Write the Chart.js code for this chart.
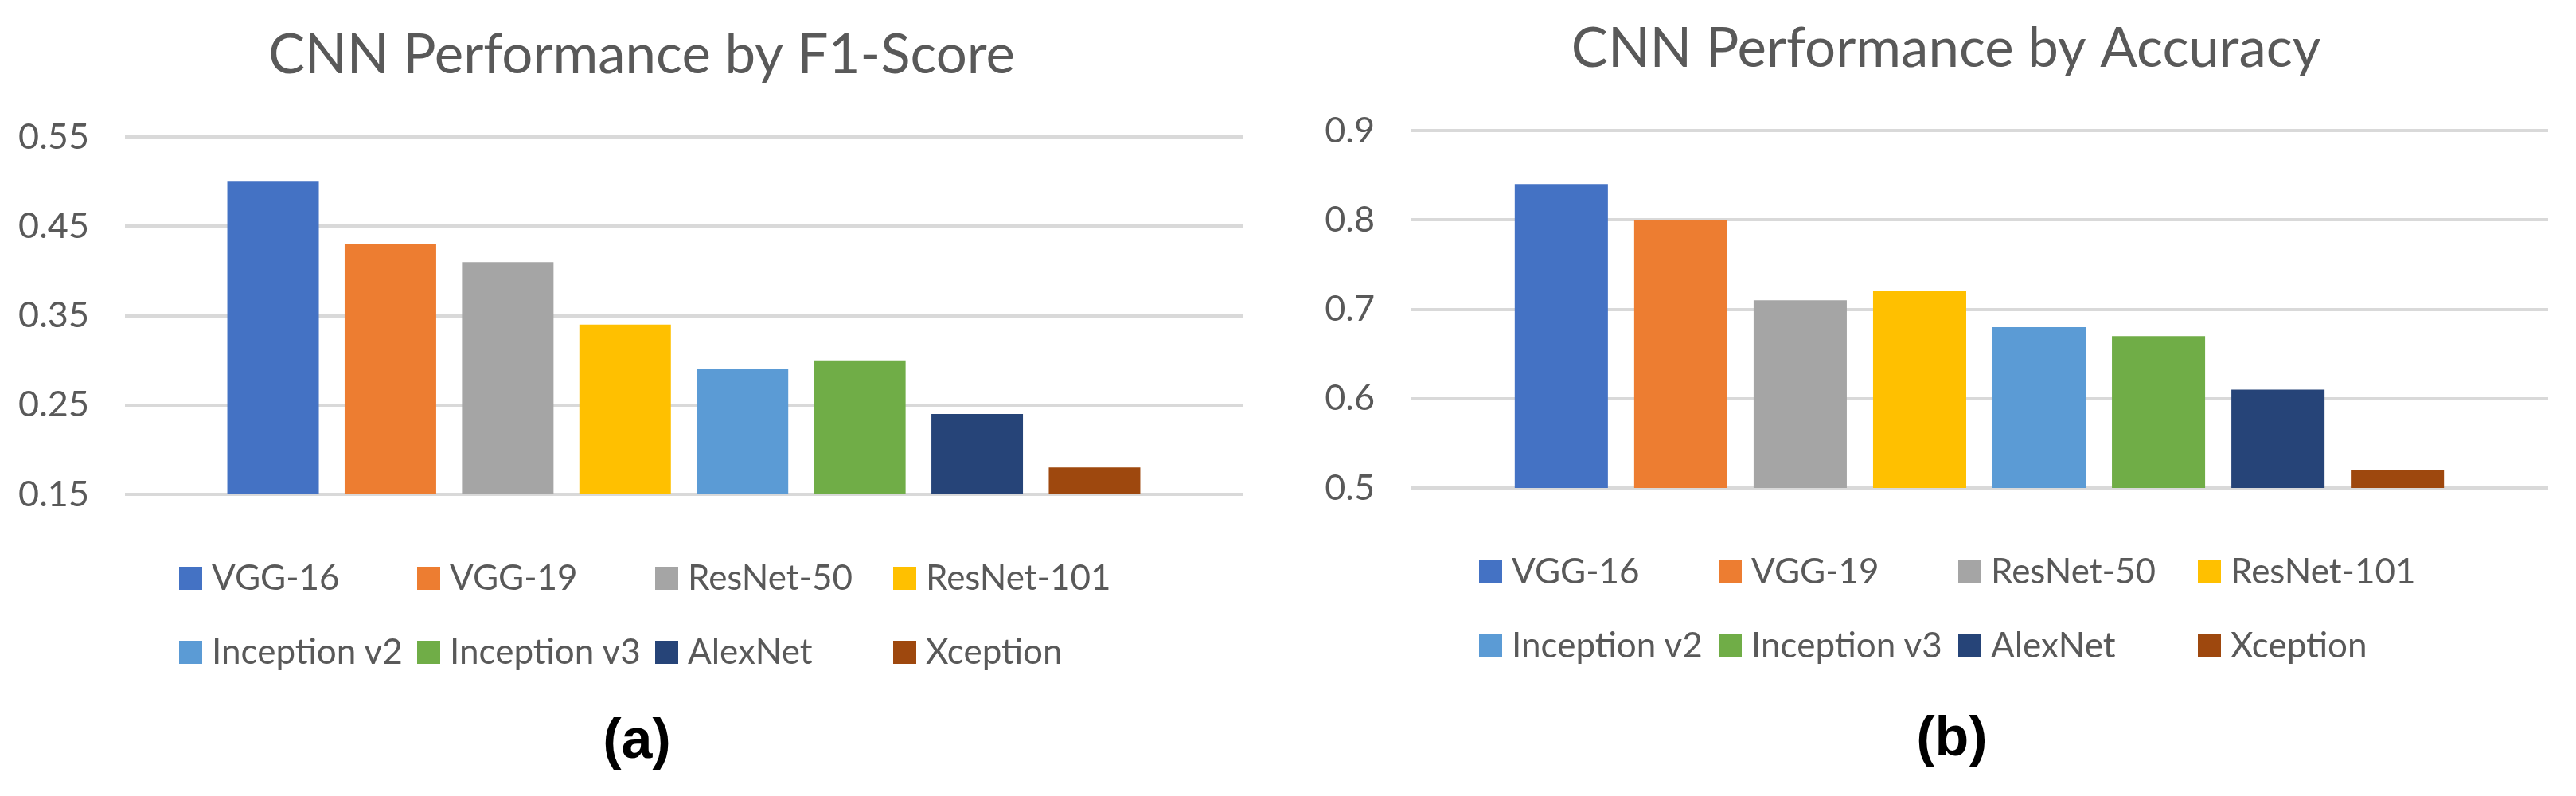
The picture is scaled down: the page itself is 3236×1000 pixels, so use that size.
<!DOCTYPE html>
<html>
<head>
<meta charset="utf-8">
<script src="https://cdn.jsdelivr.net/npm/chart.js@4.4.1/dist/chart.umd.min.js"></script>
<style>
    html, body { margin: 0; padding: 0; background: #fff; overflow: hidden; }
    body { width: 3236px; height: 1000px; position: relative; }
    .panel { position: absolute; height: 1008px; }
    .panel canvas { position: absolute; left: 0; top: 0; }
    .legend {
        position: absolute;
        top: 680px;
        display: grid;
        grid-auto-rows: 93px;
        font-family: Lato, "Open Sans", sans-serif;
        font-size: 44px;
        color: #595959;
    }
    .legend-item { display: flex; align-items: center; white-space: nowrap; }
    .legend-swatch { width: 29px; height: 29px; margin-right: 12px; flex: none; }
    .legend-text { line-height: 1; position: relative; top: -3px; }
    .caption {
        position: absolute;
        width: 200px;
        margin-left: -100px;
        text-align: center;
        font-family: "Liberation Sans", Arial, sans-serif;
        font-weight: bold;
        font-size: 70px;
        line-height: 70px;
        color: #000;
    }
</style>
</head>
<body>

<div class="panel" style="left:0; top:0; width:1600px;">
    <canvas id="f1Chart" width="1600" height="701" style="width:1600px; height:701px;"></canvas>
    <div class="legend" id="f1Legend" style="left:225px; grid-template-columns: repeat(4, 299px);"></div>
    <div class="caption" style="left:800px; top:893px;">(a)</div>
</div>

<div class="panel" style="left:1600px; top:-8px; width:1636px;">
    <canvas id="accChart" width="1636" height="701" style="width:1636px; height:701px;"></canvas>
    <div class="legend" id="accLegend" style="left:258px; grid-template-columns: repeat(4, 301px);"></div>
    <div class="caption" style="left:852px; top:898px;">(b)</div>
</div>

<script>
// --- data ---
const MODELS = ['VGG-16', 'VGG-19', 'ResNet-50', 'ResNet-101', 'Inception v2', 'Inception v3', 'AlexNet', 'Xception'];
const MODEL_COLORS = ['#4472C4', '#ED7D31', '#A5A5A5', '#FFC000', '#5B9BD5', '#70AD47', '#264478', '#9E480E'];

const F1_SCORES = [0.50, 0.43, 0.41, 0.34, 0.29, 0.30, 0.24, 0.18];
const ACCURACY = [0.84, 0.80, 0.71, 0.72, 0.68, 0.67, 0.61, 0.52];

const F1_TICKS = [0.15, 0.25, 0.35, 0.45, 0.55];
const F1_TICK_LABELS = ['0.15', '0.25', '0.35', '0.45', '0.55'];
const ACC_TICKS = [0.5, 0.6, 0.7, 0.8, 0.9];
const ACC_TICK_LABELS = ['0.5', '0.6', '0.7', '0.8', '0.9'];

const TEXT_COLOR = '#595959';
const GRID_COLOR = '#d9d9d9';

function createPerformanceChart(canvasId, title, values, ticks, tickLabels, frame) {
    const ctx = document.getElementById(canvasId).getContext('2d');

    // one empty category, one dataset per model (Excel-style series legend)
    const datasets = MODELS.map((name, i) => ({
        label: name,
        data: [values[i]],
        backgroundColor: MODEL_COLORS[i],
        borderWidth: 0,
        categoryPercentage: 0.84,
        barPercentage: 0.78
    }));

    return new Chart(ctx, {
        type: 'bar',
        data: { labels: [''], datasets },
        options: {
            responsive: false,
            animation: false,
            devicePixelRatio: 1,
            layout: { padding: frame.padding },
            plugins: {
                legend: { display: false },
                tooltip: { enabled: false },
                title: {
                    display: true,
                    text: title,
                    color: TEXT_COLOR,
                    font: { family: 'Lato', size: 69, weight: 'normal', lineHeight: 1.2 },
                    padding: { top: 28.8, bottom: 60.4 }
                }
            },
            scales: {
                x: { display: false },
                y: {
                    min: ticks[0],
                    max: ticks[ticks.length - 1],
                    afterBuildTicks: (axis) => {
                        axis.ticks = ticks.map(v => ({ value: v }));
                    },
                    afterFit: (axis) => { axis.width = frame.axisWidth; },
                    border: { display: false },
                    grid: { color: GRID_COLOR, lineWidth: 4, drawTicks: false },
                    ticks: {
                        color: TEXT_COLOR,
                        padding: 45,
                        font: { family: 'Lato', size: 45 },
                        callback: (value, index) => tickLabels[index]
                    }
                },
                // empty spacer on the right so the title centres like the original
                spacer: {
                    type: 'linear',
                    position: 'right',
                    min: 0,
                    max: 1,
                    afterFit: (axis) => { axis.width = frame.spacerWidth; },
                    border: { display: false },
                    grid: { display: false },
                    ticks: { display: false }
                }
            }
        }
    });
}

function buildLegend(containerId, chart) {
    const container = document.getElementById(containerId);
    container.innerHTML = '';
    chart.data.datasets.forEach(ds => {
        const item = document.createElement('div');
        item.className = 'legend-item';
        item.innerHTML = `
            <span class="legend-swatch" style="background:${ds.backgroundColor}"></span>
            <span class="legend-text">${ds.label}</span>
        `;
        container.appendChild(item);
    });
}

const f1Chart = createPerformanceChart('f1Chart', 'CNN Performance by F1-Score', F1_SCORES, F1_TICKS, F1_TICK_LABELS,
    { padding: { left: 20, right: 8, top: 0, bottom: 80 }, axisWidth: 137, spacerWidth: 31 });
const accChart = createPerformanceChart('accChart', 'CNN Performance by Accuracy', ACCURACY, ACC_TICKS, ACC_TICK_LABELS,
    { padding: { left: 60, right: 7, top: 0, bottom: 80 }, axisWidth: 112, spacerWidth: 28 });

buildLegend('f1Legend', f1Chart);
buildLegend('accLegend', accChart);
</script>
</body>
</html>
